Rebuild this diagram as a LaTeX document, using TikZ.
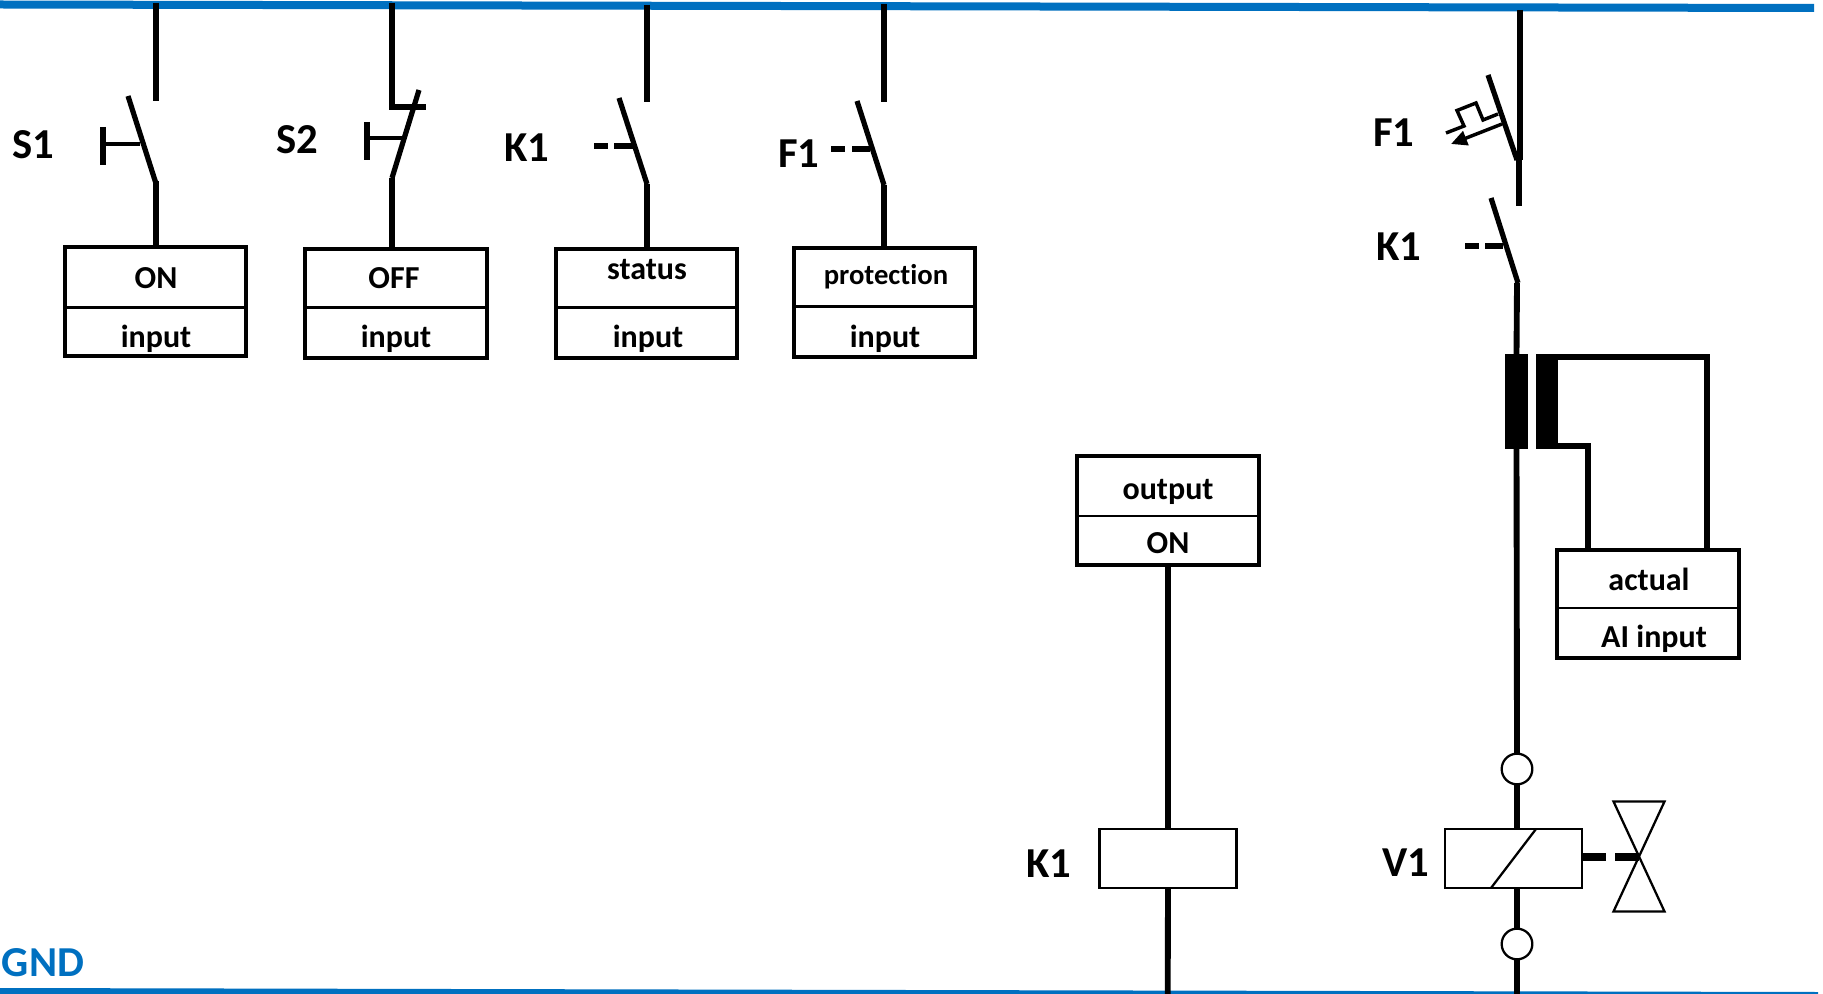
\documentclass[tikz,border=0pt]{standalone}
\usepackage{fontspec}
\setmainfont{Carlito}
\usetikzlibrary{arrows.meta}
\definecolor{busblue}{HTML}{0070C0}
\tikzset{
  x=0.75pt,y=-0.75pt,
  bus/.style={draw=busblue,line width=6pt},
  wire/.style={draw=black,line width=4.4pt},
  blade/.style={draw=black,line width=3.9pt},
  actuator/.style={draw=black,line width=3.6pt},
  dashbar/.style={draw=black,line width=4.8pt},
  thin wire/.style={draw=black,line width=2.6pt},
  divider/.style={draw=black,line width=1.7pt},
  ctlbox/.style={draw=black,line width=2.9pt,fill=white,inner sep=0pt,outer sep=0pt},
  coilbox/.style={draw=black,line width=1.7pt,fill=white,inner sep=0pt,outer sep=0pt},
  term/.style={circle,draw=black,line width=1.7pt,fill=white,inner sep=0pt,outer sep=0pt,minimum size=23pt},
  core/.style={fill=black,inner sep=0pt,outer sep=0pt},
  boxtext/.style={inner sep=0pt,font=\fontsize{24}{24}\selectfont\bfseries},
  tag/.style={inner sep=0pt,font=\fontsize{32}{32}\selectfont\bfseries},
}
\newcommand{\mkbox}[6]{% style, name, x1,y1,x2,y2
  \node[#1,minimum width={(#5-#3)*0.75pt},minimum height={(#6-#4)*0.75pt}] (#2) at ({(#3+#5)/2},{(#4+#6)/2}) {};
}
\begin{document}
\begin{tikzpicture}
\clip (0,0) rectangle (1823,994);
\fill[white] (0,0) rectangle (1823,994);

% buses
\coordinate (topL) at (0,4.5); \coordinate (topR) at (1814,8);
\coordinate (botL) at (0,992); \coordinate (botR) at (1818,996);
\draw[bus] (topL) -- (topR);
\draw[bus] (botL) -- (botR);
\node[tag,text=busblue] (gnd) at (43,963) {GND};

% input boxes
\mkbox{ctlbox}{boxon}{65.2}{247.2}{246.3}{356.3}
\mkbox{ctlbox}{boxoff}{305.2}{249.2}{486.8}{358}
\mkbox{ctlbox}{boxstatus}{556.2}{249.2}{737.3}{358}
\mkbox{ctlbox}{boxprot}{793.7}{248.2}{975.3}{357.3}
\mkbox{ctlbox}{boxout}{1077.2}{455.7}{1258.8}{565}
\mkbox{ctlbox}{boxai}{1557.2}{549.7}{1738.8}{658.3}
\draw[divider] (boxon.west |- 0,307.5) -- (boxon.east |- 0,307.5);
\draw[divider] (boxoff.west |- 0,307.5) -- (boxoff.east |- 0,307.5);
\draw[divider] (boxstatus.west |- 0,307.5) -- (boxstatus.east |- 0,307.5);
\draw[divider] (boxprot.west |- 0,306.5) -- (boxprot.east |- 0,306.5);
\draw[divider] (boxout.west |- 0,516) -- (boxout.east |- 0,516);
\draw[divider] (boxai.west |- 0,608) -- (boxai.east |- 0,608);

\node[boxtext] (ton) at (156,278) {ON};
\node[boxtext] (tin1) at (156,339) {input};
\node[boxtext] (toff) at (394,278) {OFF};
\node[boxtext] (tin2) at (396,339) {input};
\node[boxtext] (tstat) at (647,270) {status};
\node[boxtext] (tin3) at (648,339) {input};
\node[boxtext,font=\fontsize{21.5}{21.5}\selectfont\bfseries\addfontfeature{Ligatures=NoCommon}] (tprot) at (886,277) {protection};
\node[boxtext] (tin4) at (885,339) {input};
\node[boxtext] (tout) at (1168,492) {output};
\node[boxtext] (tonb) at (1168,543) {ON};
\node[boxtext] (tact) at (1649,579) {actual};
\node[boxtext] (tai) at (1654,639) {AI input};

% tags
\node[tag] (ts1) at (33,145) {S1};
\node[tag] (ts2) at (297,140) {S2};
\node[tag] (tk1) at (527,148) {K1};
\node[tag] (tf1) at (799,154) {F1};
\node[tag] (tf1b) at (1394,133) {F1};
\node[tag] (tk1b) at (1399,247) {K1};
\node[tag] (tk1c) at (1049,864) {K1};
\node[tag] (tv1) at (1406,863) {V1};

% S1
\coordinate (s1a) at (156,3); \coordinate (s1b) at (156,101);
\coordinate (s1c) at (128,96); \coordinate (s1d) at (155.5,182); \coordinate (s1e) at (156,181);
\coordinate (s1h) at (140,144); \coordinate (s1p) at (102.5,144);
\draw[wire] (s1a) -- (s1b);
\draw[blade] (s1c) -- (s1d);
\draw[wire] (s1e) -- (s1e |- boxon.north);
\draw[actuator] (s1h) -- (s1p);
\draw[line width=4.5pt] (102.5,127) -- (102.5,165);

% S2
\coordinate (s2a) at (392,3); \coordinate (s2b) at (392,107); \coordinate (s2c) at (426,107);
\coordinate (s2d) at (419,90); \coordinate (s2e) at (392,178);
\coordinate (s2h) at (404,138); \coordinate (s2p) at (367,138);
\draw[wire,line cap=butt] (s2a) -- (s2b) -- (s2c);
\draw[blade] (s2d) -- (s2e);
\draw[wire] (s2e) -- (s2e |- boxoff.north);
\draw[actuator] (s2h) -- (s2p);
\draw[line width=4.5pt] (367,122) -- (367,160);

% K1 contact
\coordinate (k1a) at (647,5); \coordinate (k1b) at (647,102);
\coordinate (k1c) at (619,98); \coordinate (k1d) at (647,184);
\draw[wire] (k1a) -- (k1b);
\draw[blade] (k1c) -- (k1d);
\draw[wire] (k1d) -- (k1d |- boxstatus.north);
\draw[dashbar] (594,146) -- (608,146);
\draw[dashbar] (614,146) -- (633,146);

% F1 contact
\coordinate (f1a) at (884,4); \coordinate (f1b) at (884,102);
\coordinate (f1c) at (857,101); \coordinate (f1d) at (884,185);
\draw[wire] (f1a) -- (f1b);
\draw[blade] (f1c) -- (f1d);
\draw[wire] (f1d) -- (f1d |- boxprot.north);
\draw[dashbar] (831,149) -- (845,149);
\draw[dashbar] (852,149) -- (870,149);

% K1 coil branch
\mkbox{coilbox}{coilk}{1099.5}{829}{1236.5}{888}
\draw[wire] (boxout.south) -- (coilk.north);
\coordinate (k3b) at (1167.7,994);
\draw[wire] (coilk.south) -- (k3b);

% right branch: F1 thermal contact
\coordinate (rt) at (1520,10); \coordinate (rm) at (1520,160);
\coordinate (rbt) at (1488,75); \coordinate (rbb) at (1517,160);
\coordinate (rn) at (1519,152); \coordinate (re) at (1519,206);
\draw[wire] (rt) -- (rm);
\draw[blade] (rbt) -- (rbb);
\draw[line width=4.9pt] (rn) -- (re);
\draw[thin wire,line join=miter] (1446,133) -- (1464,126) -- (1457,110.5) -- (1476,103) -- (1483,120) -- (1498,114);
\draw[thin wire,-{Triangle[length=12pt,width=11pt]}] (1502,124) -- (1451,144);

% right branch: K1 contact
\coordinate (k2c) at (1491,198); \coordinate (k2d) at (1518,283);
\draw[blade] (k2c) -- (k2d);
\draw[dashbar] (1465,246) -- (1479,246);
\draw[dashbar] (1485,246) -- (1503,246);

% current transformer
\node[core,minimum width=17.25pt,minimum height=71.25pt] (ct1) at (1516.5,401.5) {};
\node[core,minimum width=16.5pt,minimum height=71.25pt] (ct2) at (1547,401.5) {};
\coordinate (k2w) at (1517,283);
\draw[wire,line width=4.4pt] (k2w) -- (ct1.north);
\coordinate (cta) at (1707,357); \coordinate (ctb) at (1588,446);
\draw[wire,line width=4.2pt,line cap=butt] (ct2.east |- cta) -- (cta) -- (cta |- boxai.north);
\draw[wire,line width=3.8pt] (ct2.east |- ctb) -- (ctb) -- (ctb |- boxai.north);

% V1 coil
\node[term] (c1) at (1517,769) {};
\node[term] (c2) at (1517,944) {};
\mkbox{coilbox}{coilv}{1445}{829}{1582}{888}
\draw[wire] (ct1.south) -- (c1.north);
\draw[wire] (c1.south) -- (c1.south |- coilv.north);
\draw[wire] (c2.north |- coilv.south) -- (c2.north);
\coordinate (vb) at (1517,994);
\draw[wire] (c2.south) -- (vb);
\draw[line width=1.7pt] (1536,829) -- (1491,888);

% valve
\coordinate (vc) at (1639,857);
\coordinate (v1) at (1613.5,801.5); \coordinate (v2) at (1664.5,801.5);
\coordinate (v3) at (1664.5,911.5); \coordinate (v4) at (1613.5,911.5);
\draw[line width=1.7pt,line join=miter] (v1) -- (v2) -- (v4) -- (v3) -- cycle;
\draw[line width=6pt] (coilv.east |- vc) -- (1606,857);
\draw[line width=6pt] (1615,857) -- (vc);
\end{tikzpicture}
\end{document}
